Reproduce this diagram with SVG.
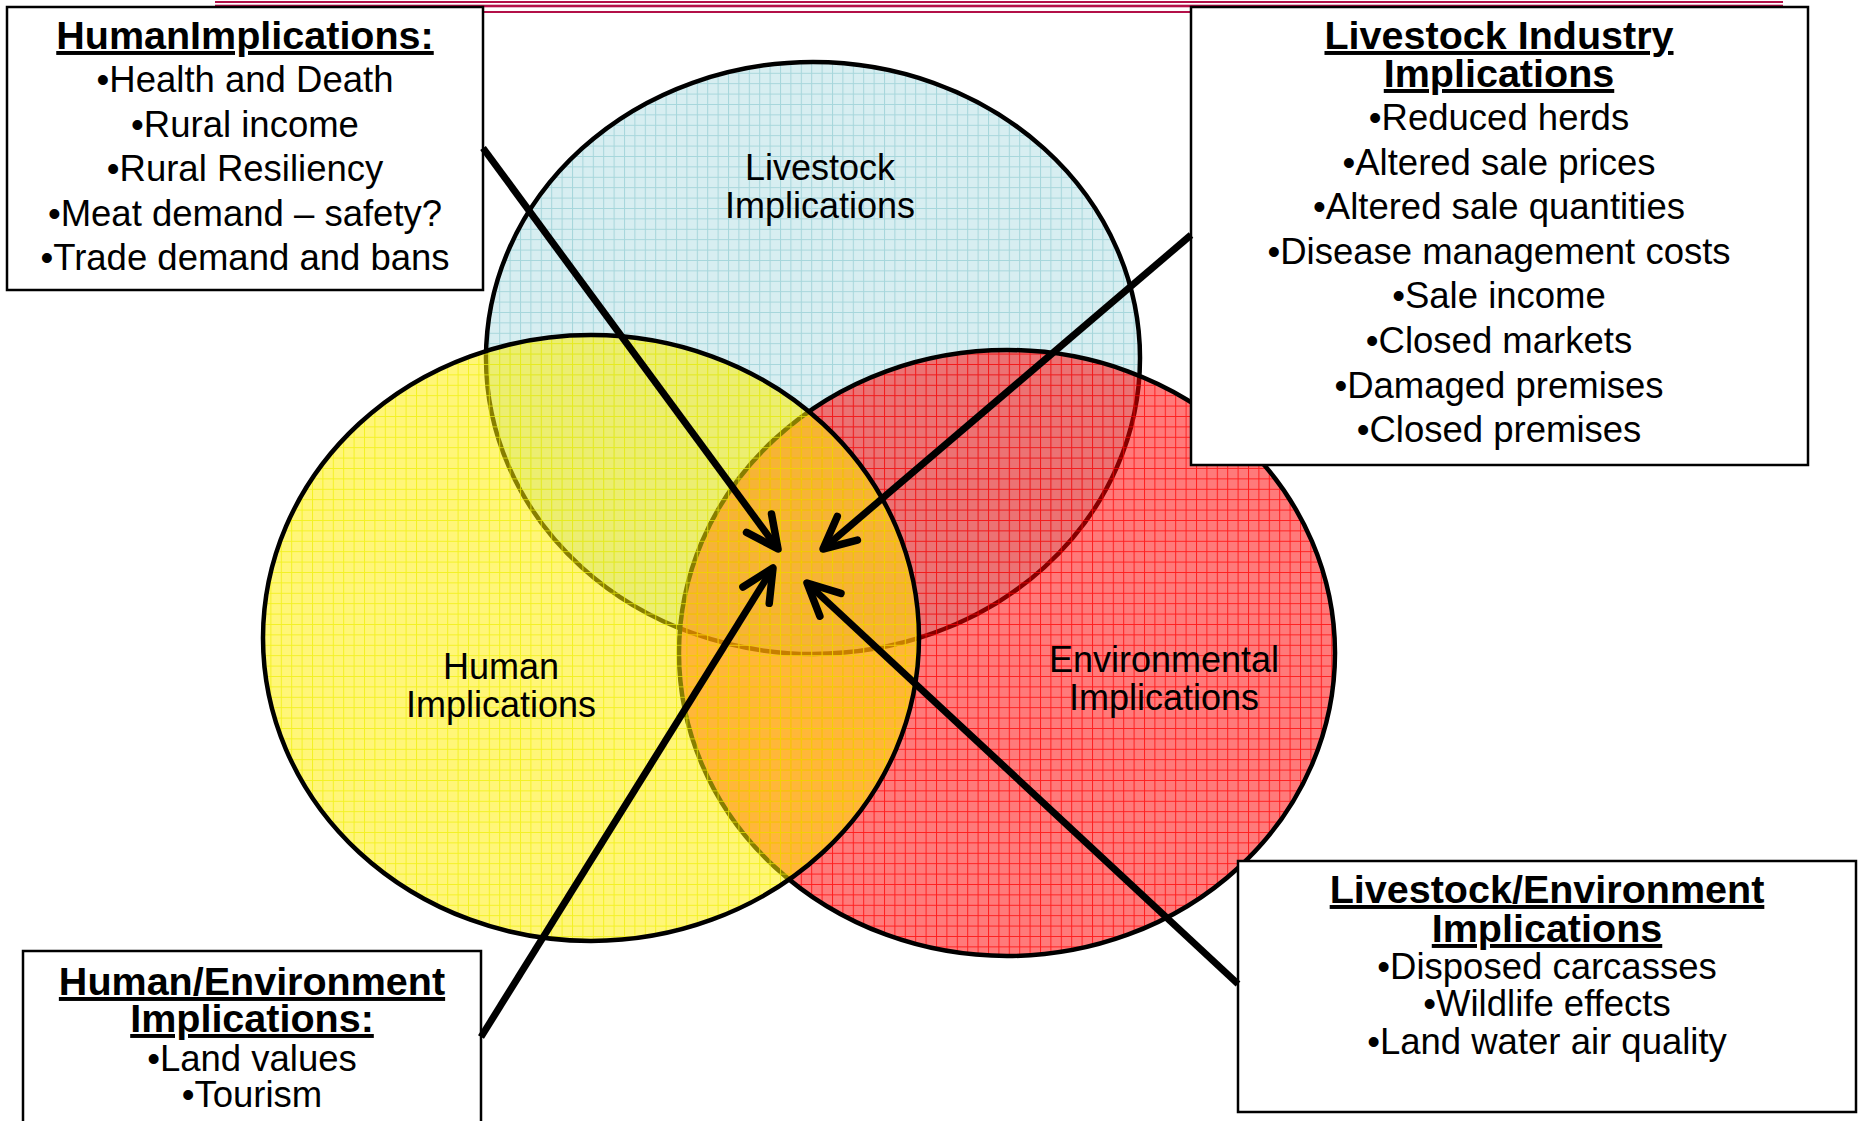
<svg xmlns="http://www.w3.org/2000/svg" width="1858" height="1121" viewBox="0 0 1858 1121">
<style>
.box{fill:#fff;stroke:#000;stroke-width:2.5}
.t{font-family:"Liberation Sans",Arial,sans-serif;font-size:36.5px;fill:#000;text-anchor:middle}
.h{font-family:"Liberation Sans",Arial,sans-serif;font-size:39.5px;font-weight:bold;fill:#000;text-anchor:middle;text-decoration:underline}
.lbl{font-family:"Liberation Sans",Arial,sans-serif;font-size:36px;fill:#000;text-anchor:middle}
.circ{stroke:#000;stroke-width:4.5}
.arr{fill:none;stroke:#000;stroke-width:7;marker-end:url(#chev)}
.hdr{fill:#B31048}
</style>
<defs>
<pattern id="gBlue" width="10.4" height="10.4" patternUnits="userSpaceOnUse">
<rect width="10.4" height="10.4" fill="#D7EEF1"/>
<path d="M0 0.5H10.4M0.5 0V10.4" stroke="#A6D6DB" stroke-width="1"/>
</pattern>
<pattern id="gYellow" width="10.4" height="10.4" patternUnits="userSpaceOnUse">
<rect width="10.4" height="10.4" fill="#FFEE00" fill-opacity="0.53"/>
<path d="M0 0.5H10.4M0.5 0V10.4" stroke="#EEEE00" stroke-opacity="0.7" stroke-width="1"/>
</pattern>
<pattern id="gRed" width="10.4" height="10.4" patternUnits="userSpaceOnUse">
<rect width="10.4" height="10.4" fill="#FF0000" fill-opacity="0.52"/>
<path d="M0 0.5H10.4M0.5 0V10.4" stroke="#FF0000" stroke-opacity="0.75" stroke-width="1"/>
</pattern>
<marker id="chev" markerUnits="userSpaceOnUse" viewBox="-40 -25 50 50" refX="0" refY="0" markerWidth="50" markerHeight="50" orient="auto" overflow="visible">
<path d="M-32 -15.5L0 0L-32 15.5" fill="none" stroke="#000" stroke-width="7.5" stroke-linecap="round" stroke-linejoin="round"/>
</marker>
</defs>
<rect width="1858" height="1121" fill="#fff"/>

<g id="header">
<rect class="hdr" x="215" y="1" width="1568" height="2"/>
<rect class="hdr" x="215" y="4.7" width="1568" height="2.6"/>
<rect class="hdr" x="215" y="11" width="1568" height="2"/>
</g>

<g id="circle-livestock">
<ellipse class="circ" cx="813" cy="358" rx="327" ry="296" fill="url(#gBlue)"/>
<text class="lbl" x="820" y="180">Livestock</text>
<text class="lbl" x="820" y="218">Implications</text>
</g>
<g id="circle-environment">
<ellipse class="circ" cx="1007" cy="653" rx="328" ry="303" fill="url(#gRed)"/>
<text class="lbl" x="1164" y="672">Environmental</text>
<text class="lbl" x="1164" y="710">Implications</text>
</g>
<g id="circle-human">
<ellipse class="circ" cx="591" cy="638" rx="328" ry="303" fill="url(#gYellow)"/>
<text class="lbl" x="501" y="679">Human</text>
<text class="lbl" x="501" y="717">Implications</text>
</g>

<g id="box-human">
<rect class="box" x="7" y="7" width="476" height="283"/>
<text class="h" x="245" y="49">HumanImplications:</text>
<text class="t" x="245" y="92">•Health and Death</text>
<text class="t" x="245" y="137">•Rural income</text>
<text class="t" x="245" y="181">•Rural Resiliency</text>
<text class="t" x="245" y="226">•Meat demand – safety?</text>
<text class="t" x="245" y="270">•Trade demand and bans</text>
</g>

<g id="box-livestock-industry">
<rect class="box" x="1191" y="7" width="617" height="458"/>
<text class="h" x="1499" y="49">Livestock Industry</text>
<text class="h" x="1499" y="87">Implications</text>
<text class="t" x="1499" y="130">•Reduced herds</text>
<text class="t" x="1499" y="175">•Altered sale prices</text>
<text class="t" x="1499" y="219">•Altered sale quantities</text>
<text class="t" x="1499" y="264">•Disease management costs</text>
<text class="t" x="1499" y="308">•Sale income</text>
<text class="t" x="1499" y="353">•Closed markets</text>
<text class="t" x="1499" y="398">•Damaged premises</text>
<text class="t" x="1499" y="442">•Closed premises</text>
</g>

<g id="box-human-environment">
<rect class="box" x="23" y="951" width="458" height="190"/>
<text class="h" x="252" y="995">Human/Environment</text>
<text class="h" x="252" y="1032">Implications:</text>
<text class="t" x="252" y="1071">•Land values</text>
<text class="t" x="252" y="1107">•Tourism</text>
</g>

<g id="box-livestock-environment">
<rect class="box" x="1238" y="861" width="618" height="251"/>
<text class="h" x="1547" y="903">Livestock/Environment</text>
<text class="h" x="1547" y="942">Implications</text>
<text class="t" x="1547" y="979">•Disposed carcasses</text>
<text class="t" x="1547" y="1016">•Wildlife effects</text>
<text class="t" x="1547" y="1054">•Land water air quality</text>
</g>

<g id="connectors">
<line class="arr" x1="483" y1="148" x2="778" y2="549"/>
<line class="arr" x1="1191" y1="235" x2="823" y2="549"/>
<line class="arr" x1="481" y1="1037" x2="773" y2="568"/>
<line class="arr" x1="1238" y1="984" x2="807" y2="583"/>
</g>
</svg>
